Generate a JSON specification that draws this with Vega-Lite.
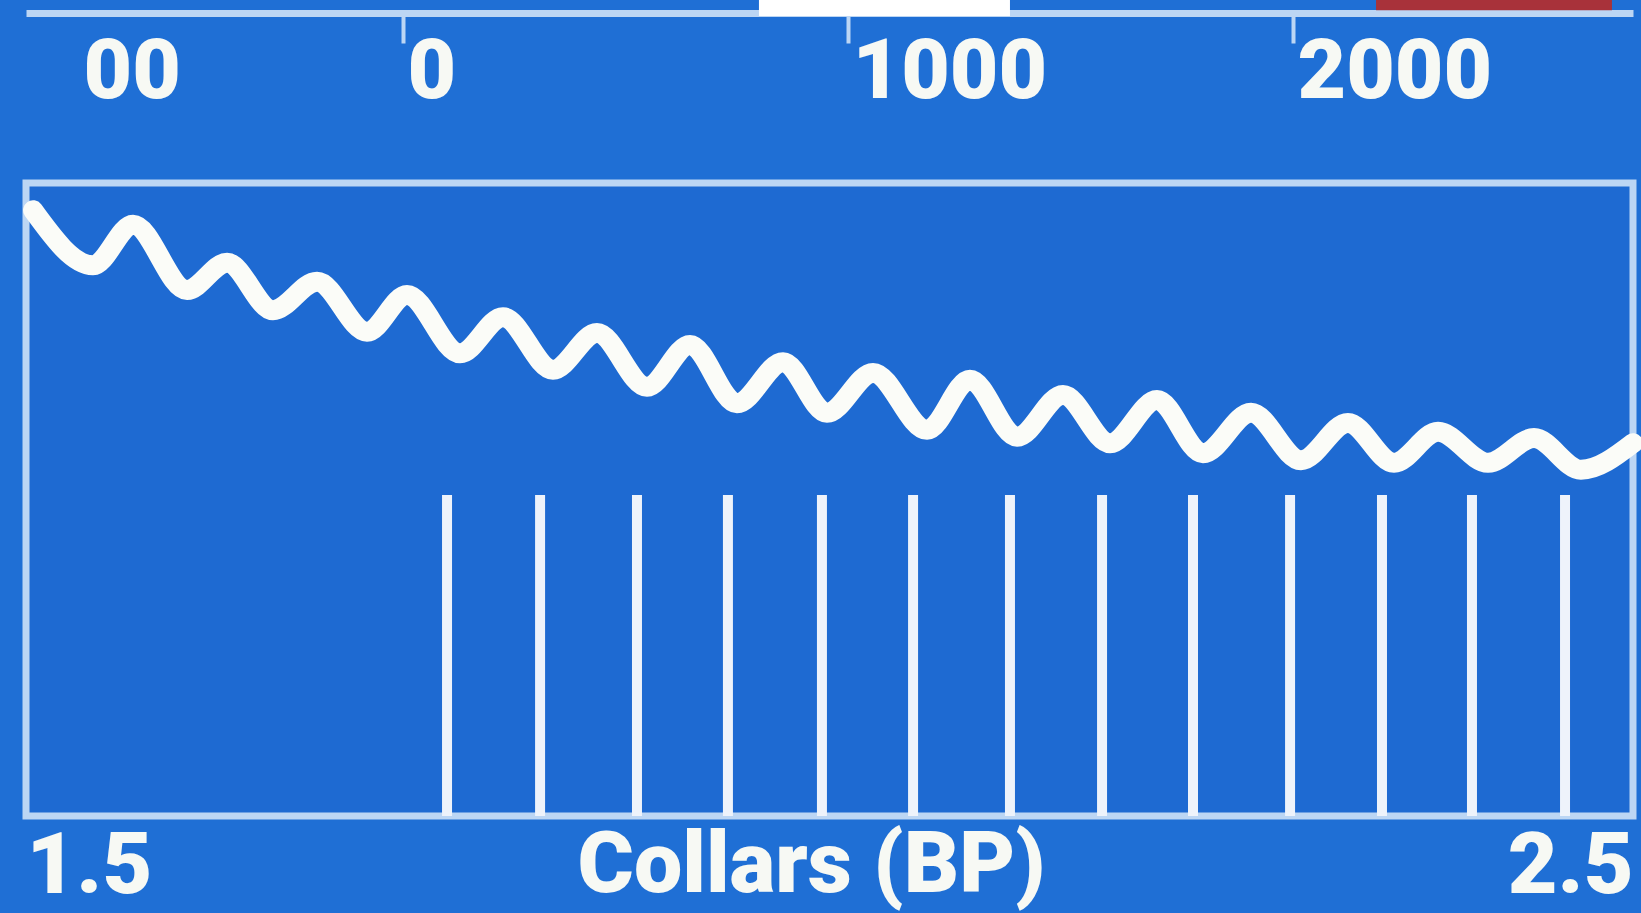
{
  "$schema": "https://vega.github.io/schema/vega-lite/v6.json",
  "width": 1607,
  "height": 633,
  "autosize": {"type": "none"},
  "padding": {"left": 26, "top": 183, "right": 8, "bottom": 97},
  "background": "#1f6fd5",
  "config": {
    "view": {"stroke": "#bcd6f4", "strokeWidth": 7, "fill": "#1e6ad2"},
    "font": "Roboto"
  },
  "datasets": {
    "wave": [
      {"x": 1.5044, "y": 95.7}, {"x": 1.5417, "y": 87.0}, {"x": 1.5666, "y": 93.4}, {"x": 1.6002, "y": 83.1},
      {"x": 1.6251, "y": 87.4}, {"x": 1.6537, "y": 79.9}, {"x": 1.6811, "y": 84.4}, {"x": 1.7122, "y": 76.5},
      {"x": 1.7371, "y": 82.3}, {"x": 1.7701, "y": 73.1}, {"x": 1.7968, "y": 78.8}, {"x": 1.8279, "y": 70.5},
      {"x": 1.8553, "y": 76.3}, {"x": 1.8864, "y": 67.8}, {"x": 1.9132, "y": 74.4}, {"x": 1.9424, "y": 65.2},
      {"x": 1.9711, "y": 71.7}, {"x": 1.9984, "y": 63.7}, {"x": 2.0271, "y": 70.0}, {"x": 2.0607, "y": 61.0},
      {"x": 2.0874, "y": 68.9}, {"x": 2.1167, "y": 59.9}, {"x": 2.1453, "y": 66.5}, {"x": 2.1746, "y": 58.9},
      {"x": 2.2038, "y": 65.7}, {"x": 2.2324, "y": 57.3}, {"x": 2.2623, "y": 63.7}, {"x": 2.2934, "y": 56.2},
      {"x": 2.3226, "y": 62.1}, {"x": 2.3513, "y": 55.8}, {"x": 2.3787, "y": 60.7}, {"x": 2.4098, "y": 55.8},
      {"x": 2.4384, "y": 59.7}, {"x": 2.4676, "y": 54.7}, {"x": 2.5, "y": 58.9}
    ],
    "rules": [
      {"x": 1.762, "y": 0, "y2": 50.7}, {"x": 1.8199, "y": 0, "y2": 50.7}, {"x": 1.8802, "y": 0, "y2": 50.7},
      {"x": 1.9368, "y": 0, "y2": 50.7}, {"x": 1.9953, "y": 0, "y2": 50.7}, {"x": 2.052, "y": 0, "y2": 50.7},
      {"x": 2.1123, "y": 0, "y2": 50.7}, {"x": 2.1696, "y": 0, "y2": 50.7}, {"x": 2.2262, "y": 0, "y2": 50.7},
      {"x": 2.2866, "y": 0, "y2": 50.7}, {"x": 2.3438, "y": 0, "y2": 50.7}, {"x": 2.3998, "y": 0, "y2": 50.7},
      {"x": 2.4577, "y": 0, "y2": 50.7}
    ],
    "whitebox": [{"x": 1.9561, "x2": 2.1123, "y": 126.4, "y2": 129.5}],
    "redbox": [{"x": 2.3401, "x2": 2.4869, "y": 127.3, "y2": 129.5}]
  },
  "layer": [
    {
      "data": {"name": "rules"},
      "mark": {"type": "rule", "color": "#eef3fb", "strokeWidth": 10},
      "encoding": {
        "x": {
          "field": "x", "type": "quantitative",
          "scale": {"domain": [1.5, 2.5], "nice": false, "zero": false},
          "axis": {
            "orient": "bottom", "values": [1.5, 2.5], "format": ".1f", "labelFlush": true,
            "domain": false, "ticks": false, "grid": false, "labelLimit": 0,
            "labelPadding": 8, "labelBaseline": "top", "labelFontSize": 86, "labelFontWeight": 900,
            "labelFont": "Roboto", "labelColor": "#f7f9f4",
            "title": "Collars (BP)", "titleFont": "Roboto", "titleFontSize": 86, "titleFontWeight": 900,
            "titleColor": "#f7f9f4", "titleBaseline": "top", "titleY": 7, "titleX": 785, "titleAlign": "center",
            "titleLimit": 0
          }
        },
        "y": {"field": "y", "type": "quantitative", "scale": {"domain": [0, 100], "nice": false, "zero": false}, "axis": null},
        "y2": {"field": "y2"}
      }
    },
    {
      "data": {"name": "wave"},
      "mark": {"type": "line", "color": "#fbfcf8", "strokeWidth": 20, "interpolate": "monotone", "strokeCap": "round", "strokeJoin": "round"},
      "encoding": {
        "x": {
          "field": "x", "type": "quantitative",
          "scale": {"domain": [1.5, 2.5], "nice": false, "zero": false},
          "axis": {
            "orient": "top", "offset": 170,
            "values": [1.533, 1.7346, 2.0115, 2.2884],
            "labelExpr": "datum.value < 1.6 ? '00' : datum.value < 1.9 ? '0' : datum.value < 2.1 ? '1000' : '2000'",
            "domainColor": "#bcd6f4", "domainWidth": 7,
            "tickColor": "#bcd6f4", "tickWidth": 4, "tickSize": -30,
            "tickOpacity": {"condition": {"test": "datum.value < 1.6", "value": 0}, "value": 1},
            "labelAlign": "left", "labelBaseline": "top", "labelPadding": 12, "labelOffset": 4,
            "labelFontSize": 84, "labelFont": "Roboto", "labelFontWeight": 900, "labelColor": "#f7f9f4",
            "grid": false, "title": null, "labelFlush": false, "labelOverlap": false, "labelBound": false,
            "labelLimit": 0
          }
        },
        "y": {"field": "y", "type": "quantitative", "scale": {"domain": [0, 100], "nice": false, "zero": false}, "axis": null}
      }
    },
    {
      "data": {"name": "whitebox"},
      "mark": {"type": "rect", "color": "#ffffff", "clip": false},
      "encoding": {
        "x": {"field": "x", "type": "quantitative", "axis": null},
        "x2": {"field": "x2"},
        "y": {"field": "y", "type": "quantitative", "axis": null},
        "y2": {"field": "y2"}
      }
    },
    {
      "data": {"name": "redbox"},
      "mark": {"type": "rect", "color": "#a8323a", "clip": false},
      "encoding": {
        "x": {"field": "x", "type": "quantitative", "axis": null},
        "x2": {"field": "x2"},
        "y": {"field": "y", "type": "quantitative", "axis": null},
        "y2": {"field": "y2"}
      }
    }
  ],
  "resolve": {"axis": {"x": "independent"}}
}
